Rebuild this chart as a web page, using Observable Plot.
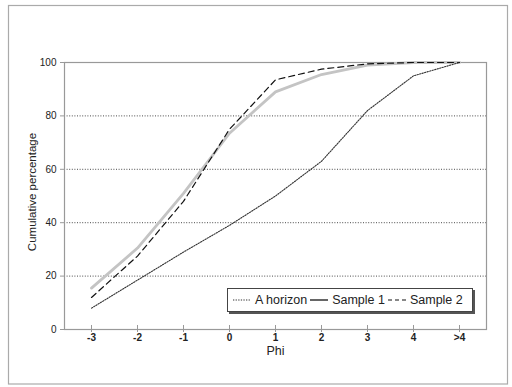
<!DOCTYPE html>
<html>
<head>
<meta charset="utf-8">
<script src="https://cdn.jsdelivr.net/npm/d3@7"></script>
<script src="https://cdn.jsdelivr.net/npm/@observablehq/plot@0.6"></script>
<style>
  html, body { margin: 0; padding: 0; background: #fff; }
  #wrap { position: relative; width: 512px; height: 387px; font-family: "Liberation Sans", Arial, sans-serif; }
  #legend { position: absolute; left: 227px; top: 288px; width: 244px; height: 22px;
    border: 1px solid #444; box-shadow: 2px 2px 0 #555; background: #fff;
    display: flex; align-items: center; font-size: 12.5px; color: #222; white-space: nowrap; }
  #legend svg { display: block; }
  .lg-item { display: flex; align-items: center; }
</style>
</head>
<body>
<div id="wrap"></div>
<script>
const phi = ["-3", "-2", "-1", "0", "1", "2", "3", "4", ">4"];
const aHorizon = [8, 18.5, 29, 39, 50, 63, 82, 95, 100];
const sample1 = [15.5, 30.5, 51, 73.5, 89, 95.5, 99, 100, 100];
const sample2 = [12, 27.5, 48, 75, 93.5, 97.5, 99.5, 100, 100];
const yTicks = [0, 20, 40, 60, 80, 100];
const gridTicks = [20, 40, 60, 80];
const seriesNames = ["A horizon", "Sample 1", "Sample 2"];
const xTitle = "Phi";
const yTitle = "Cumulative percentage";

const rows = (vals) => phi.map((p, i) => ({phi: p, v: vals[i]}));

const chart = Plot.plot({
  width: 512,
  height: 387,
  marginLeft: 64,
  marginRight: 26,
  marginTop: 62,
  marginBottom: 58,
  style: {fontFamily: "'Liberation Sans', Arial, sans-serif", background: "#fff", color: "#222"},
  x: {type: "point", domain: phi, padding: 0.5},
  y: {domain: [0, 100]},
  marks: [
    Plot.gridY(gridTicks, {stroke: "#111", strokeOpacity: 0.85, strokeDasharray: "1,1.6", strokeWidth: 0.9}),
    Plot.frame({stroke: "#999", strokeWidth: 1.2}),
    Plot.axisY(yTicks, {tickSize: 4, tickPadding: 4, fontSize: 10, stroke: "#999", label: null}),
    Plot.axisX(phi, {tickSize: 3, tickPadding: 1, fontSize: 10, fontWeight: "bold", stroke: "#999", label: null}),
    Plot.ruleX(phi, {x: d => d, y1: 0, y2: 1.5, stroke: "#999"}),
    Plot.ruleY([0], {stroke: "#999", strokeWidth: 1.2}),
    Plot.text([xTitle], {frameAnchor: "bottom", lineAnchor: "top", dy: 17, fontSize: 12.5, fill: "#222", text: d => d}),
    Plot.text([yTitle], {frameAnchor: "left", textAnchor: "middle", lineAnchor: "middle", dx: -32, dy: -4, rotate: -90, fontSize: 11.5, fill: "#222", text: d => d}),
    Plot.line(rows(sample1), {x: "phi", y: "v", stroke: "#c4c4c4", strokeWidth: 2.8}),
    Plot.line(rows(sample2), {x: "phi", y: "v", stroke: "#111", strokeWidth: 1.2, strokeDasharray: "6,4"}),
    Plot.line(rows(aHorizon), {x: "phi", y: "v", stroke: "#333", strokeWidth: 1.1, strokeDasharray: "1.3,1.3"})
  ]
});

// outer figure frame
d3.select(chart).append("rect")
  .attr("x", 8.5).attr("y", 5.5).attr("width", 499).attr("height", 378.5)
  .attr("fill", "none").attr("stroke", "#aaa").attr("stroke-width", 1.2);

const wrap = document.getElementById("wrap");
wrap.appendChild(chart);

// legend
const styles = {
  "A horizon": {stroke: "#333", w: 1.1, dash: "1.3,1.3"},
  "Sample 1": {stroke: "#333", w: 1.5, dash: null},
  "Sample 2": {stroke: "#111", w: 1.1, dash: "4,3"}
};
const legend = document.createElement("div");
legend.id = "legend";
seriesNames.forEach((name, i) => {
  const item = document.createElement("div");
  item.className = "lg-item";
  item.style.marginLeft = i === 0 ? "5px" : "3px";
  const s = styles[name];
  const svg = d3.create("svg").attr("width", 18).attr("height", 10);
  svg.append("line").attr("x1", 0).attr("x2", 18).attr("y1", 5).attr("y2", 5)
    .attr("stroke", s.stroke).attr("stroke-width", s.w).attr("stroke-dasharray", s.dash);
  item.appendChild(svg.node());
  const t = document.createElement("span");
  t.textContent = name;
  t.style.marginLeft = "4px";
  item.appendChild(t);
  legend.appendChild(item);
});
wrap.appendChild(legend);
</script>
</body>
</html>
